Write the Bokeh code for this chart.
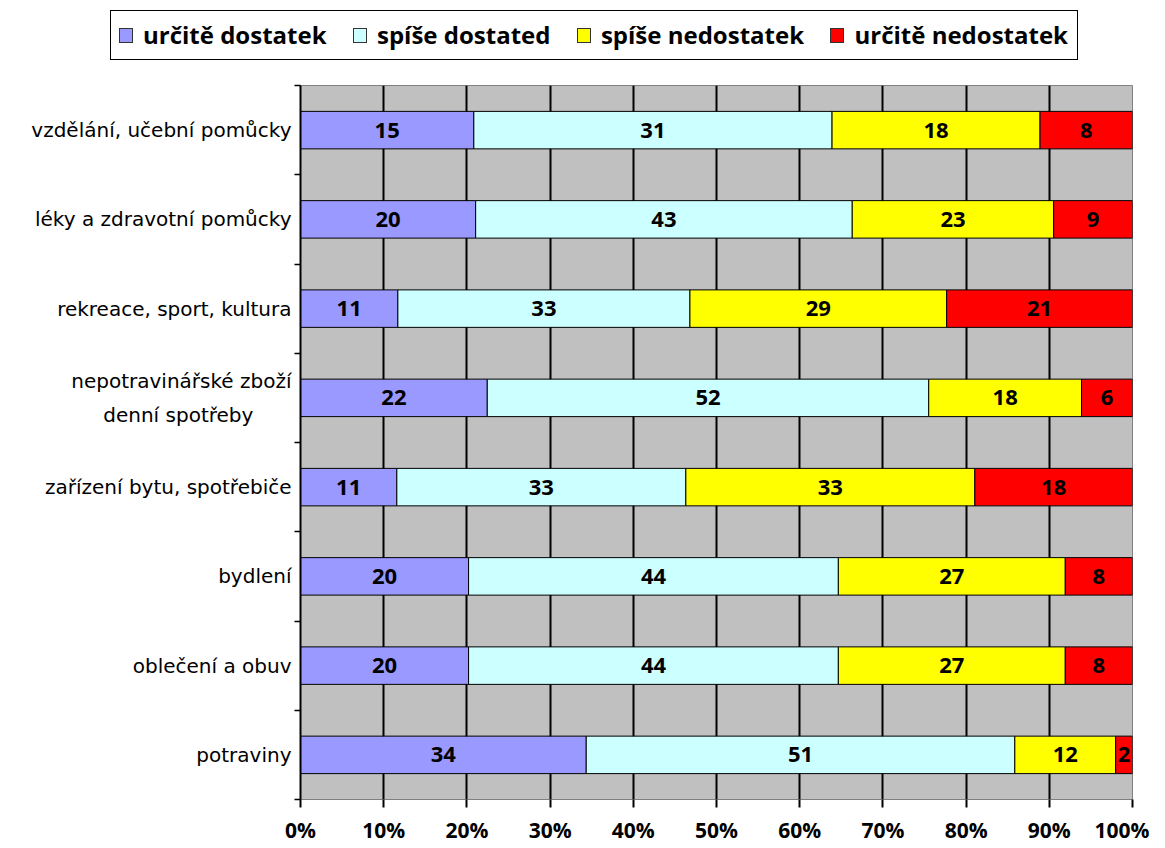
from bokeh.plotting import figure
from bokeh.layouts import column
from bokeh.models import (ColumnDataSource, Range1d, FixedTicker, NumeralTickFormatter, Div)
from bokeh.core.properties import value
from bokeh.embed import file_html
from bokeh.resources import INLINE

categories = ["vzdělání, učební pomůcky", "léky a zdravotní pomůcky",
              "rekreace, sport, kultura", "nepotravinářské zboží\ndenní spotřeby",
              "zařízení bytu, spotřebiče", "bydlení", "oblečení a obuv", "potraviny"]
series = ["určitě dostatek", "spíše dostated", "spíše nedostatek", "určitě nedostatek"]
urcite_dostatek = [15, 20, 11, 22, 11, 20, 20, 34]
spise_dostatek = [31, 43, 33, 52, 33, 44, 44, 51]
spise_nedostatek = [18, 23, 29, 18, 33, 27, 27, 12]
urcite_nedostatek = [8, 9, 21, 6, 18, 8, 8, 2]
colors = ["#9999FF", "#CCFFFF", "#FFFF00", "#FF0000"]
x_ticks = [i / 10 for i in range(11)]

values = [urcite_dostatek, spise_dostatek, spise_nedostatek, urcite_nedostatek]
n = len(categories)
totals = [sum(v[i] for v in values) for i in range(n)]
ypos = [i + 0.5 for i in range(n)]

FONT = "Open Sans"
YFONT = "DejaVu Sans"

p = figure(width=1149, height=776, output_backend="svg", toolbar_location=None,
           x_range=Range1d(0, 1), y_range=Range1d(n, 0),
           min_border_left=300, min_border_right=17, min_border_top=15, min_border_bottom=46)
p.background_fill_color = "#C0C0C0"
p.outline_line_color = "#808080"
p.outline_line_width = 1

cum = [0.0] * n
for s, vals, col in zip(series, values, colors):
    left = [cum[i] for i in range(n)]
    right = [cum[i] + vals[i] / totals[i] for i in range(n)]
    cum = right
    src = ColumnDataSource(dict(y=ypos, left=left, right=right,
                                mid=[(a + b) / 2 for a, b in zip(left, right)],
                                lab=[str(v) for v in vals]))
    p.hbar(y="y", left="left", right="right", height=0.42, source=src,
           fill_color=col, line_color="black", line_width=1)
    p.text(x="mid", y="y", text="lab", source=src, text_align="center",
           text_baseline="middle", text_font=value(FONT), text_font_style="bold",
           text_font_size="22px", text_color="black")

# axes
p.xaxis.ticker = FixedTicker(ticks=x_ticks)
p.xaxis.formatter = NumeralTickFormatter(format="0%")
p.xaxis.major_label_text_font = FONT
p.xaxis.major_label_text_font_style = "bold"
p.xaxis.major_label_text_font_size = "21px"
p.xaxis.major_label_text_color = "black"
p.xaxis.axis_line_color = "#808080"
p.xaxis.major_tick_line_color = "black"
p.xaxis.major_tick_line_width = 2
p.xaxis.major_tick_out = 8
p.xaxis.major_tick_in = 0
p.xaxis.minor_tick_line_color = None
p.xaxis.major_label_standoff = 8


def label_text(c):
    if "\n" in c:
        a, b = c.split("\n")
        return a + "\n" + b + "\u00a0" * 6
    return c


p.yaxis.ticker = FixedTicker(ticks=ypos, minor_ticks=list(range(n + 1)))
p.yaxis.major_label_overrides = {y: label_text(c) for y, c in zip(ypos, categories)}
p.yaxis.major_label_text_font = YFONT
p.yaxis.major_label_text_font_size = "20px"
p.yaxis.major_label_text_color = "black"
p.yaxis.major_label_text_line_height = 1.4
p.yaxis.axis_line_color = "black"
p.yaxis.axis_line_width = 2
p.yaxis.major_tick_line_color = None
p.yaxis.minor_tick_line_color = "black"
p.yaxis.minor_tick_line_width = 1.5
p.yaxis.minor_tick_out = 6
p.yaxis.minor_tick_in = 0
p.yaxis.major_label_standoff = 3

p.xgrid.ticker = FixedTicker(ticks=x_ticks)
p.xgrid.grid_line_color = "black"
p.xgrid.grid_line_width = 2
p.ygrid.grid_line_color = None

# legend header, built from the series names and colours
item_html = "".join(
    '<span style="display:inline-flex;align-items:center;white-space:nowrap;">'
    f'<span style="display:inline-block;width:14px;height:15px;background:{col};'
    'border:1.5px solid #333333;margin-right:10px;"></span>'
    f'{s}</span>'
    for s, col in zip(series, colors))
legend_html = (
    '<div style="margin-left:110px;margin-top:10px;width:968px;height:50px;'
    'box-sizing:border-box;border:1.5px solid black;background:white;'
    'display:flex;align-items:center;justify-content:space-between;padding:0 9px 0 8px;'
    "font-family:'Open Sans';font-weight:bold;font-size:24px;color:black;\">"
    + item_html + '</div>')
header = Div(text=legend_html, width=1149, height=70, margin=0)

layout = column(header, p, spacing=0)
open("out.html", "w").write(file_html(layout, INLINE))
